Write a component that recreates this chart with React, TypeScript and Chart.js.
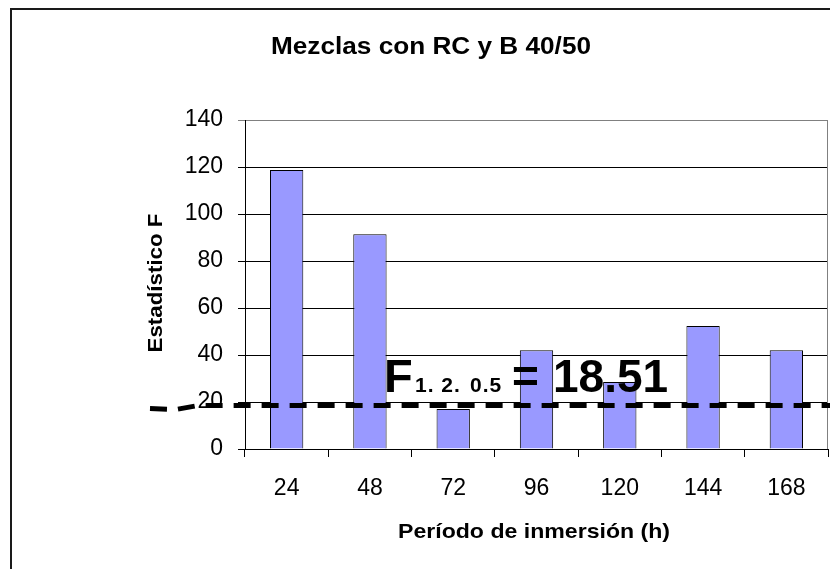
import React, { useEffect, useRef } from "react";
import { Chart, registerables } from "chart.js";

Chart.register(...registerables);

const categories = ["24", "48", "72", "96", "120", "144", "168"];
const fValues = [118.7, 91.4, 17, 42, 28.5, 52.3, 42];
const threshold = 18.51;
const yTicks = [0, 20, 40, 60, 80, 100, 120, 140];

const titleText = "Mezclas con RC y B 40/50";
const xTitle = "Período de inmersión (h)";
const yTitle = "Estadístico F";

const FONT = "'Liberation Sans', Arial, sans-serif";

function stretchedText(
  ctx: CanvasRenderingContext2D,
  text: string,
  cx: number,
  cy: number,
  font: string,
  targetWidth: number,
  rotate = 0
) {
  ctx.save();
  ctx.font = font;
  const w = ctx.measureText(text).width;
  const sx = targetWidth / w;
  ctx.translate(cx, cy);
  if (rotate) ctx.rotate(rotate);
  ctx.scale(sx, 1);
  ctx.textAlign = "center";
  ctx.textBaseline = "alphabetic";
  ctx.fillText(text, 0, 0);
  ctx.restore();
}

const overlay = {
  id: "overlay",
  afterDraw(chart: any) {
    const ctx = chart.ctx as CanvasRenderingContext2D;
    const area = chart.chartArea;
    const ys = chart.scales.y;
    ctx.save();

    // outer border
    ctx.strokeStyle = "#1a1a1a";
    ctx.lineWidth = 2;
    ctx.strokeRect(11, 9, 900, 700);

    // plot right border
    ctx.strokeStyle = "#808080";
    ctx.lineWidth = 1;
    ctx.beginPath();
    ctx.moveTo(Math.round(area.right) - 0.5, area.top);
    ctx.lineTo(Math.round(area.right) - 0.5, area.bottom);
    ctx.stroke();

    ctx.fillStyle = "#000";
    // title
    stretchedText(ctx, titleText, 431, 54, `bold 23px ${FONT}`, 320);
    // x title
    stretchedText(ctx, xTitle, 534, 538, `bold 21px ${FONT}`, 272);
    // y title
    stretchedText(ctx, yTitle, 162, 283, `bold 21px ${FONT}`, 139, -Math.PI / 2);

    // threshold dashed line
    const y = ys.getPixelForValue(threshold);
    ctx.strokeStyle = "#000";
    ctx.lineWidth = 5;
    ctx.setLineDash([17, 11]);
    ctx.lineDashOffset = 0;
    ctx.beginPath();
    ctx.moveTo(150, y + 3);
    ctx.lineTo(176, y + 4);
    ctx.lineTo(198, y);
    ctx.lineTo(chart.width, y);
    ctx.stroke();
    ctx.setLineDash([]);

    // annotation text
    ctx.textAlign = "left";
    ctx.textBaseline = "alphabetic";
    ctx.fillStyle = "#000";
    ctx.font = `bold 47px ${FONT}`;
    ctx.fillText("F", 384, 392);
    ctx.font = `bold 21px ${FONT}`;
    (ctx as any).letterSpacing = "1px";
    ctx.fillText("1. 2.", 415, 392);
    ctx.fillText("0.5", 470, 392);
    (ctx as any).letterSpacing = "0px";
    ctx.font = `bold 46px ${FONT}`;
    ctx.fillText("=", 512, 392);
    ctx.fillText("18.51", 553, 392);

    ctx.restore();
  },
};

export default function App() {
  const ref = useRef<HTMLCanvasElement | null>(null);
  useEffect(() => {
    document.body.style.margin = "0";
    document.body.style.background = "#fff";
    if (!ref.current) return;
    const chart = new Chart(ref.current, {
      type: "bar",
      data: {
        labels: categories,
        datasets: [
          {
            data: fValues,
            backgroundColor: "#9999FF",
            borderColor: "#000",
            borderWidth: 1,
            barPercentage: 0.4,
            categoryPercentage: 1,
          },
        ],
      },
      options: {
        animation: false,
        responsive: false,
        devicePixelRatio: 1,
        layout: { padding: { top: 120, right: 2, left: 0, bottom: 0 } },
        plugins: {
          legend: { display: false },
          tooltip: { enabled: false },
          title: { display: false },
        },
        scales: {
          x: {
            grid: {
              display: true,
              drawOnChartArea: false,
              drawTicks: true,
              tickLength: 8,
              color: "#000",
              offset: true,
            },
            border: { color: "#000", width: 1 },
            ticks: {
              color: "#000",
              font: { family: FONT, size: 23 },
              padding: 18,
              maxRotation: 0,
            },
            afterFit(scale: any) {
              scale.height = 120;
            },
          },
          y: {
            min: 0,
            max: 140,
            afterBuildTicks(scale: any) {
              scale.ticks = yTicks.map((v) => ({ value: v }));
            },
            grid: {
              color: (c: any) => (c.tick && c.tick.value === 140 ? "#808080" : "#000"),
              tickLength: 7,
              drawTicks: true,
            },
            border: { color: "#000", width: 1 },
            ticks: {
              color: "#000",
              font: { family: FONT, size: 23 },
              padding: 15,
            },
            afterFit(scale: any) {
              scale.width = 245;
            },
          },
        },
      },
      plugins: [overlay],
    });
    return () => chart.destroy();
  }, []);
  return (
    <div style={{ width: 830, height: 569 }}>
      <canvas ref={ref} width={830} height={569} style={{ width: 830, height: 569, display: "block" }} />
    </div>
  );
}
